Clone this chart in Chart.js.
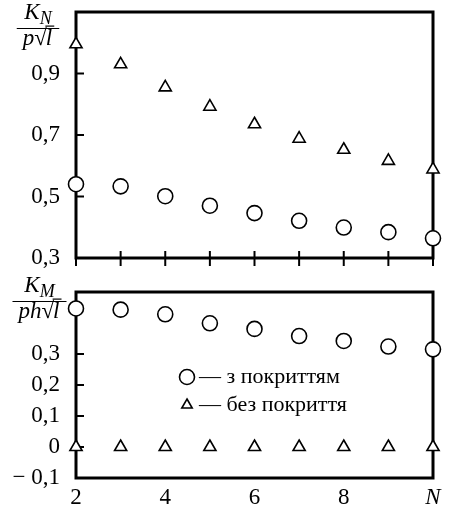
<!DOCTYPE html>
<html>
<head>
<meta charset="utf-8">
<script src="https://cdn.jsdelivr.net/npm/chart.js@4/dist/chart.umd.min.js"></script>
<style>
  html,body{margin:0;padding:0;background:#fff;}
  #wrap{position:relative;width:450px;height:510px;}
  canvas{position:absolute;left:0;}
  #cTop{top:0;}
  #cBot{top:272px;}
</style>
</head>
<body>
<div id="wrap">
  <canvas id="cTop" width="450" height="272"></canvas>
  <canvas id="cBot" width="450" height="238"></canvas>
</div>
<script>
// data
const nValues = [2, 3, 4, 5, 6, 7, 8, 9, 10];
const kN_coated   = [0.540, 0.533, 0.501, 0.470, 0.446, 0.421, 0.399, 0.384, 0.364];
const kN_uncoated = [0.995, 0.930, 0.855, 0.792, 0.735, 0.688, 0.652, 0.616, 0.588];
const kM_coated   = [0.447, 0.443, 0.428, 0.399, 0.381, 0.358, 0.342, 0.324, 0.315];
const kM_uncoated = [0, 0, 0, 0, 0, 0, 0, 0, 0];
const topLabels = {3:"0,3", 5:"0,5", 7:"0,7", 9:"0,9"};
const botLabels = {"-1":"\u2212 0,1", 0:"0", 1:"0,1", 2:"0,2", 3:"0,3"};
const xLabels = {2:"2", 4:"4", 6:"6", 8:"8", 10:"N"};
const legendNames = ["\u2014 з покриттям", "\u2014 без покриття"];

const SERIF = "'Liberation Serif', 'DejaVu Serif', serif";
function pts(ys){ return nValues.map((x,i)=>({x, y: ys[i]})); }

function ds(data, style){
  return {
    data: pts(data), showLine:false, clip:false,
    pointStyle: style, pointRadius: style==="circle" ? 7.5 : 7, pointHoverRadius: style==="circle" ? 7.5 : 7,
    pointBackgroundColor:"#fff", pointBorderColor:"#000", pointBorderWidth:1.6
  };
}

// frame + inward ticks, drawn under the points
const framePlugin = {
  id:"frame",
  beforeDatasetsDraw(chart, args, opts){
    const {ctx, chartArea:a, scales} = chart;
    ctx.save();
    ctx.strokeStyle="#000";
    ctx.lineWidth=2;
    for (const t of scales.y.ticks){
      const py = scales.y.getPixelForValue(t.value);
      ctx.beginPath(); ctx.moveTo(a.left, py); ctx.lineTo(a.left+8, py); ctx.stroke();
    }
    if (opts.xTicks){
      for (const t of scales.x.ticks){
        const px = scales.x.getPixelForValue(t.value);
        ctx.beginPath(); ctx.moveTo(px, a.bottom-7); ctx.lineTo(px, a.bottom+8); ctx.stroke();
      }
    }
    ctx.lineWidth=3;
    ctx.strokeRect(a.left, a.top, a.right-a.left, a.bottom-a.top);
    ctx.restore();
  }
};

// y-axis fraction title: K_sub over denom·√l
function drawFraction(ctx, cx, ly, sub, denom){
  ctx.save();
  ctx.fillStyle="#000"; ctx.strokeStyle="#000";
  ctx.textBaseline="alphabetic"; ctx.textAlign="left";
  ctx.font="italic 23px "+SERIF;
  const kw = ctx.measureText("K").width;
  const dw = ctx.measureText(denom).width, lw = ctx.measureText("l").width;
  ctx.font="italic 18px "+SERIF;
  const sw = ctx.measureText(sub).width;
  ctx.font="23px "+SERIF;
  const rm = ctx.measureText("\u221A");
  const rw = rm.width, ra = rm.actualBoundingBoxAscent;
  const numW = kw + sw;
  const denW = dw + rw + lw;
  const w = Math.max(numW, denW) + 12;
  // numerator
  const nx = cx - numW/2;
  ctx.font="italic 23px "+SERIF;
  ctx.fillText("K", nx, ly-10);
  ctx.font="italic 18px "+SERIF;
  ctx.fillText(sub, nx+kw, ly-5);
  // bar
  ctx.lineWidth=1.2;
  ctx.beginPath(); ctx.moveTo(cx-w/2, ly); ctx.lineTo(cx+w/2, ly); ctx.stroke();
  // denominator
  const dx = cx - denW/2, by = ly+16;
  ctx.font="italic 23px "+SERIF;
  ctx.fillText(denom, dx, by);
  ctx.font="23px "+SERIF;
  ctx.fillText("\u221A", dx+dw, by);
  ctx.font="italic 23px "+SERIF;
  ctx.fillText("l", dx+dw+rw-1, by);
  ctx.lineWidth=1.2;
  ctx.beginPath(); ctx.moveTo(dx+dw+rw-1.5, by-ra+0.6); ctx.lineTo(dx+dw+rw+lw+1, by-ra+0.6); ctx.stroke();
  ctx.restore();
}

const titlePlugin = {
  id:"ytitle",
  afterDraw(chart, args, opts){
    drawFraction(chart.ctx, opts.cx, opts.ly, opts.sub, opts.denom);
  }
};

const legendPlugin = {
  id:"innerLegend",
  afterDraw(chart, args, opts){
    if (!opts.show) return;
    const ctx = chart.ctx;
    const styles = ["circle","triangle"];
    ctx.save();
    ctx.fillStyle="#fff"; ctx.strokeStyle="#000"; ctx.lineWidth=1.6;
    styles.forEach((s,i)=>{
      const y = opts.y + i*28;
      Chart.helpers.drawPoint(ctx, {pointStyle:s, radius: s==="circle"?7.5:6, borderWidth:1.6, rotation:0}, opts.x, y);
    });
    ctx.fillStyle="#000";
    ctx.font="22px "+SERIF; ctx.textBaseline="middle"; ctx.textAlign="left";
    legendNames.forEach((t,i)=>ctx.fillText(t, opts.x+12, opts.y + i*28));
    ctx.restore();
  }
};

function baseOptions(){
  return {
    responsive:false, animation:false, events:[],
    plugins:{ legend:{display:false}, tooltip:{enabled:false} },
    layout:{ padding:{left:0, right:17, top:0, bottom:0} }
  };
}
function fitY(s){ s.width = 76; s.paddingTop = 0; s.paddingBottom = 0; }

// top chart: K_N
const optTop = baseOptions();
optTop.layout.padding.top = 12;
optTop.plugins.frame = {xTicks:true};
optTop.plugins.ytitle = {cx:38, ly:28.5, sub:"N", denom:"p"};
optTop.plugins.innerLegend = {show:false};
optTop.scales = {
  x:{ type:"linear", min:2, max:10, grid:{display:false}, border:{display:false},
      ticks:{display:false, stepSize:1}, afterFit(s){ s.height = 14; } },
  y:{ type:"linear", min:0.3, max:1.1, grid:{display:false, drawTicks:false}, border:{display:false},
      ticks:{ stepSize:0.1, autoSkip:false, padding:16, color:"#000", font:{family:SERIF, size:23},
        callback:v=>topLabels[Math.round(v*10)] || null },
      afterFit: fitY }
};
new Chart(document.getElementById("cTop"), {
  type:"scatter",
  data:{ datasets:[ ds(kN_uncoated,"triangle"), ds(kN_coated,"circle") ] },
  options: optTop,
  plugins:[framePlugin, titlePlugin, legendPlugin]
});

// bottom chart: K_M
const optBot = baseOptions();
optBot.layout.padding.top = 20;
optBot.plugins.frame = {xTicks:false};
optBot.plugins.ytitle = {cx:39.5, ly:29.5, sub:"M", denom:"ph"};
optBot.plugins.innerLegend = {show:true, x:187, y:105};
optBot.scales = {
  x:{ type:"linear", min:2, max:10, grid:{display:false, drawTicks:false}, border:{display:false},
      ticks:{ stepSize:1, autoSkip:false, maxRotation:0, padding:6, color:"#000",
        font:c=>({family:SERIF, size:23, style: c.tick && c.tick.value===10 ? "italic" : "normal"}),
        callback:v=>xLabels[v] || null },
      afterFit(s){ s.height = 32; } },
  y:{ type:"linear", min:-0.1, max:0.5, grid:{display:false, drawTicks:false}, border:{display:false},
      ticks:{ stepSize:0.1, autoSkip:false, padding:16, color:"#000", font:{family:SERIF, size:23},
        callback:v=>botLabels[Math.round(v*10)] || null },
      afterFit: fitY }
};
new Chart(document.getElementById("cBot"), {
  type:"scatter",
  data:{ datasets:[ ds(kM_uncoated,"triangle"), ds(kM_coated,"circle") ] },
  options: optBot,
  plugins:[framePlugin, titlePlugin, legendPlugin]
});
</script>
</body>
</html>
